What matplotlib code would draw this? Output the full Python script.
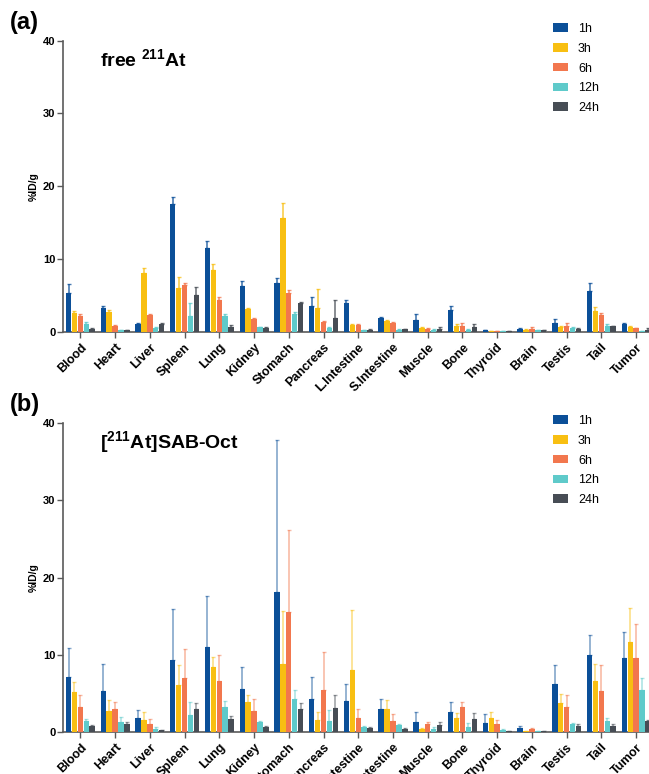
import numpy as np
import matplotlib
matplotlib.use("Agg")
import matplotlib.pyplot as plt
from matplotlib.patches import Patch

plt.rcParams['font.family'] = ['Liberation Sans', 'DejaVu Sans']
plt.rcParams['mathtext.fontset'] = 'custom'
plt.rcParams['mathtext.rm'] = 'Liberation Sans:bold'
plt.rcParams['mathtext.bf'] = 'Liberation Sans:bold'
plt.rcParams['mathtext.it'] = 'Liberation Sans:bold'

organs = ["Blood", "Heart", "Liver", "Spleen", "Lung", "Kidney", "Stomach", "Pancreas",
          "L.Intestine", "S.Intestine", "Muscle", "Bone", "Thyroid", "Brain", "Testis", "Tail", "Tumor"]
times = ["1h", "3h", "6h", "12h", "24h"]
colors = ["#0b4f98", "#f8bf12", "#f2774e", "#5fcaca", "#474d55"]

# Panel (a): free 211At, rows = organs, columns = time points
free_mean = [
    [5.3, 2.55, 2.1, 1.1, 0.4],
    [3.3, 2.65, 0.8, 0.2, 0.2],
    [1.05, 8.1, 2.3, 0.5, 1.0],
    [17.5, 6.0, 6.4, 2.1, 5.1],
    [11.5, 8.45, 4.4, 2.2, 0.6],
    [6.3, 3.1, 1.7, 0.6, 0.5],
    [6.7, 15.6, 5.3, 2.5, 3.9],
    [3.6, 3.2, 1.3, 0.5, 1.9],
    [4.0, 0.9, 0.9, 0.2, 0.3],
    [1.9, 1.45, 1.2, 0.3, 0.35],
    [1.55, 0.5, 0.4, 0.3, 0.4],
    [3.0, 0.8, 0.85, 0.3, 0.7],
    [0.25, 0.1, 0.05, 0.05, 0.1],
    [0.4, 0.3, 0.4, 0.2, 0.2],
    [1.2, 0.6, 0.8, 0.45, 0.4],
    [5.6, 2.9, 2.35, 0.8, 0.75],
    [1.05, 0.6, 0.45, 0.1, 0.25],
]
free_sd = [
    [1.3, 0.25, 0.3, 0.2, 0.1],
    [0.3, 0.4, 0.1, 0.05, 0.1],
    [0.1, 0.6, 0.2, 0.2, 0.15],
    [1.0, 1.5, 0.3, 1.8, 1.0],
    [0.9, 0.9, 0.4, 0.3, 0.3],
    [0.7, 0.2, 0.2, 0.1, 0.15],
    [0.7, 2.1, 0.4, 0.2, 0.2],
    [1.2, 2.7, 0.2, 0.1, 2.4],
    [0.3, 0.1, 0.1, 0.05, 0.05],
    [0.15, 0.1, 0.15, 0.05, 0.05],
    [0.95, 0.1, 0.1, 0.05, 0.2],
    [0.6, 0.3, 0.4, 0.1, 0.3],
    [0.05, 0.05, 0.05, 0.05, 0.05],
    [0.05, 0.1, 0.3, 0.05, 0.05],
    [0.5, 0.2, 0.4, 0.2, 0.1],
    [1.1, 0.5, 0.2, 0.2, 0.1],
    [0.15, 0.2, 0.1, 0.05, 0.2],
]

# Panel (b): [211At]SAB-Oct
sab_mean = [
    [7.1, 5.2, 3.25, 1.45, 0.7],
    [5.3, 2.7, 3.0, 1.2, 0.95],
    [1.8, 1.5, 1.05, 0.4, 0.2],
    [9.3, 6.1, 7.0, 2.2, 3.0],
    [11.0, 8.4, 6.6, 3.2, 1.6],
    [5.5, 3.8, 2.7, 1.2, 0.65],
    [18.1, 8.8, 15.5, 4.3, 2.9],
    [4.3, 1.5, 5.4, 1.4, 3.1],
    [4.0, 8.05, 1.8, 0.65, 0.45],
    [2.9, 3.0, 1.4, 0.85, 0.35],
    [1.25, 0.35, 1.05, 0.3, 0.85],
    [2.6, 1.75, 3.25, 0.65, 1.6],
    [1.15, 1.75, 1.0, 0.25, 0.1],
    [0.5, 0.1, 0.3, 0.1, 0.1],
    [6.2, 3.7, 3.2, 0.95, 0.75],
    [9.9, 6.6, 5.3, 1.4, 0.75],
    [9.6, 11.6, 9.6, 5.4, 1.4],
]
sab_sd = [
    [3.8, 1.3, 1.55, 0.25, 0.15],
    [3.5, 1.4, 0.8, 0.75, 0.25],
    [1.0, 1.0, 0.55, 0.15, 0.05],
    [6.6, 2.6, 3.7, 1.6, 0.7],
    [6.6, 1.3, 3.4, 0.8, 0.5],
    [2.9, 1.0, 1.6, 0.2, 0.1],
    [19.7, 6.8, 10.7, 1.1, 0.8],
    [2.8, 1.1, 4.9, 1.4, 1.6],
    [2.2, 7.75, 1.2, 0.15, 0.15],
    [1.3, 1.1, 0.85, 0.2, 0.1],
    [1.25, 0.15, 0.15, 0.3, 0.35],
    [1.2, 0.7, 0.65, 0.5, 0.8],
    [1.15, 0.85, 0.5, 0.1, 0.05],
    [0.25, 0.05, 0.2, 0.05, 0.05],
    [2.5, 1.2, 1.6, 0.2, 0.2],
    [2.7, 2.2, 3.3, 0.4, 0.3],
    [3.3, 4.4, 4.4, 1.6, 0.1],
]

W, H = 649, 774
fig = plt.figure(figsize=(W / 100, H / 100), dpi=100)

def px_axes(left, top, right, bottom):
    return fig.add_axes([left / W, 1 - bottom / H, (right - left) / W, (bottom - top) / H])

ax_a = px_axes(63, 40.7, 653.5, 331.7)
ax_b = px_axes(63, 423.3, 653.5, 731.7)

bw = 0.17
x = np.arange(len(organs))
spine_col = "#5a5a5a"

def draw(ax, mean, sd, title, title_y, err_alpha):
    mean = np.array(mean)
    sd = np.array(sd)
    for j in range(len(times)):
        xs = x + (j - 2) * bw
        ax.bar(xs, mean[:, j], width=bw * 0.92, color=colors[j], zorder=3)
        ax.errorbar(xs, mean[:, j], yerr=[np.zeros(len(organs)), sd[:, j]], fmt='none',
                    ecolor=colors[j], alpha=err_alpha, elinewidth=1.2, capsize=1.5,
                    capthick=1.0, zorder=2)
    ax.set_xlim(-0.5, len(organs) - 0.5)
    ax.set_ylim(0, 40)
    ax.set_yticks([0, 10, 20, 30, 40])
    ax.set_xticks(x)
    ax.set_xticklabels(organs, rotation=45, ha='right', rotation_mode='anchor',
                       fontsize=9, fontweight='bold')
    for lab in ax.get_yticklabels():
        lab.set_fontweight('bold')
        lab.set_fontsize(8)
    ax.tick_params(axis='both', colors=spine_col, labelcolor='black', length=4, width=1.0)
    ax.tick_params(axis='x', pad=3)
    ax.tick_params(axis='y', pad=1.5)
    for s in ['top', 'right']:
        ax.spines[s].set_visible(False)
    for s in ['left', 'bottom']:
        ax.spines[s].set_color(spine_col)
        ax.spines[s].set_linewidth(1.2)
    ax.set_ylabel("%ID/g", fontsize=7.5, fontweight='bold', labelpad=3)
    ax.text(37 / 590.5, title_y, title, transform=ax.transAxes, fontsize=14,
            fontweight='bold', ha='left', va='center')

draw(ax_a, free_mean, free_sd, r"free $^{211}$At", 0.935, 0.75)
draw(ax_b, sab_mean, sab_sd, r"[$^{211}$At]SAB-Oct", 0.94, 0.5)

handles = [Patch(facecolor=c, edgecolor='none') for c in colors]
for top in (23, 415):
    fig.legend(handles, times, loc='upper left', bbox_to_anchor=(553 / W, 1 - top / H),
               frameon=False, fontsize=9, handlelength=1.2, handleheight=0.65,
               handletextpad=0.8, labelspacing=0.62, borderpad=0, borderaxespad=0)

fig.text(10 / W, 1 - 22 / H, "(a)", fontsize=17, fontweight='bold', ha='left', va='center')
fig.text(10 / W, 1 - 404 / H, "(b)", fontsize=17, fontweight='bold', ha='left', va='center')

fig.savefig("out.png", dpi=100)
